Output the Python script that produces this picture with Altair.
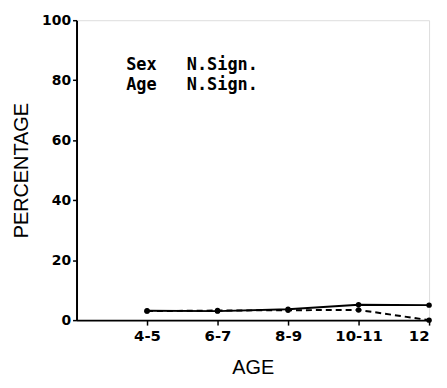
import altair as alt
import pandas as pd

ages = ["4-5", "6-7", "8-9", "10-11", "12"]
age_pos = [1, 2, 3, 4, 5]
solid_vals = [3.1, 3.0, 3.6, 5.1, 5.0]
dashed_vals = [3.0, 3.2, 3.3, 3.4, 0.0]

df = pd.DataFrame({
    "pos": age_pos * 2,
    "age": ages * 2,
    "pct": solid_vals + dashed_vals,
    "series": ["solid"] * 5 + ["dashed"] * 5,
})

ann_rows = ["Sex", "Age"]
ann_vals = ["N.Sign.", "N.Sign."]
ann_y = [85, 78.5]
ann = pd.DataFrame({"lab": ann_rows, "val": ann_vals, "y": ann_y})

label_expr = "{1:'4-5',2:'6-7',3:'8-9',4:'10-11',5:'12'}[datum.value]"

x = alt.X("pos:Q", scale=alt.Scale(domain=[0, 5], nice=False),
          axis=alt.Axis(title="AGE", values=age_pos, labelExpr=label_expr,
                        grid=False, domainColor="black", domainWidth=2,
                        tickColor="black", tickWidth=1.5, tickSize=5,
                        labelFont="DejaVu Sans", labelFontWeight="bold",
                        labelFontSize=15, labelColor="black", labelPadding=4,
                        titleFont="Liberation Sans", titleFontWeight="normal",
                        titleFontSize=20, titleColor="black", titlePadding=14))
y = alt.Y("pct:Q", scale=alt.Scale(domain=[0, 100], nice=False),
          axis=alt.Axis(title="PERCENTAGE", values=list(range(0, 101, 10)),
                        labelExpr="datum.value % 20 == 0 ? datum.label : ''",
                        grid=False, domainColor="black", domainWidth=2,
                        tickColor="black", tickWidth=1.5, tickSize=4,
                        labelFont="DejaVu Sans", labelFontWeight="bold",
                        labelFontSize=14, labelColor="black", labelPadding=2,
                        titleFont="Liberation Sans", titleFontWeight="normal",
                        titleFontSize=20, titleColor="black", titlePadding=10))

base = alt.Chart(df).encode(x=x, y=y)
solid = base.transform_filter("datum.series == 'solid'").mark_line(
    color="black", strokeWidth=2, point=alt.OverlayMarkDef(color="black", size=30, filled=True))
dashed = base.transform_filter("datum.series == 'dashed'").mark_line(
    color="black", strokeWidth=2, strokeDash=[6, 4],
    point=alt.OverlayMarkDef(color="black", size=30, filled=True))

t1 = alt.Chart(ann).mark_text(align="left", baseline="middle", font="DejaVu Sans Mono",
                              fontWeight="bold", fontSize=17, color="black").encode(
    x=alt.value(50), y=alt.Y("y:Q"), text="lab:N")
t2 = alt.Chart(ann).mark_text(align="left", baseline="middle", font="DejaVu Sans Mono",
                              fontWeight="bold", fontSize=17, color="black").encode(
    x=alt.value(111), y=alt.Y("y:Q"), text="val:N")

chart = alt.layer(solid, dashed, t1, t2).properties(
    width=355, height=302,
    autosize=alt.AutoSizeParams(type="none"),
    padding={"left": 69, "top": 11, "right": 10, "bottom": 60},
).configure_view(stroke=None).configure(background="white")

chart.save("out.html", embed_options={"renderer": "svg", "actions": False})
